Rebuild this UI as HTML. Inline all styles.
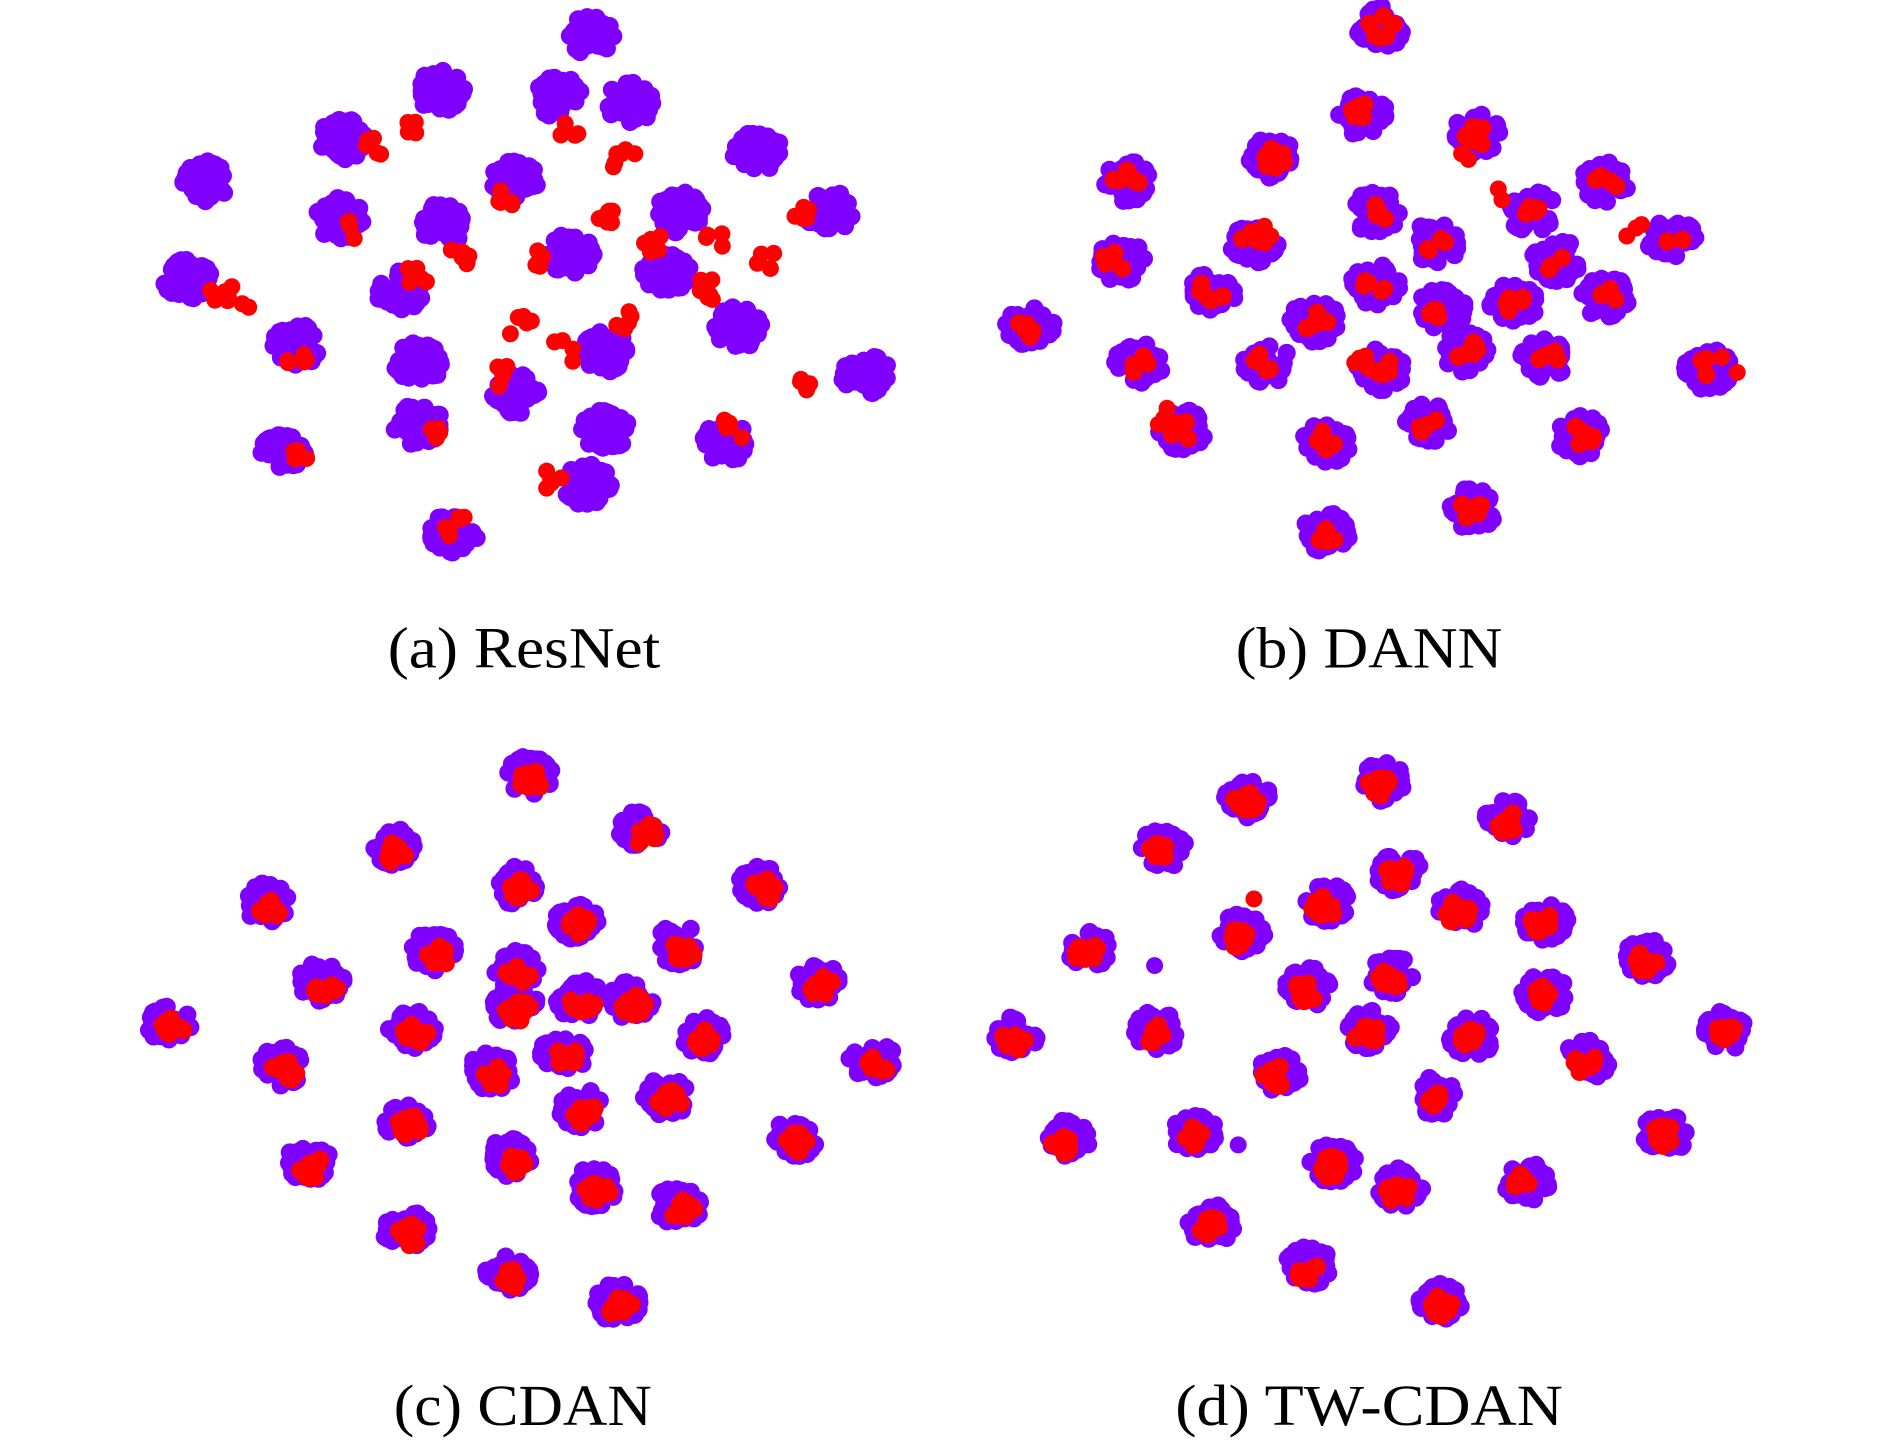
<!DOCTYPE html>
<html><head><meta charset="utf-8"><style>
html,body{margin:0;padding:0;background:#fff;width:1890px;height:1441px;overflow:hidden}
svg{display:block}
text{font-family:"Liberation Serif",serif;font-size:48px;fill:#000}
</style></head><body>
<svg id="s" width="1890" height="1441" viewBox="0 0 1560 1189.4" preserveAspectRatio="none">
<g id="p"></g><g id="r"></g>
<text x="320" y="551" textLength="225" lengthAdjust="spacingAndGlyphs">(a) ResNet</text>
<text x="1020" y="551" textLength="220" lengthAdjust="spacingAndGlyphs">(b) DANN</text>
<text x="325" y="1176" textLength="213" lengthAdjust="spacingAndGlyphs">(c) CDAN</text>
<text x="970" y="1176" textLength="320" lengthAdjust="spacingAndGlyphs">(d) TW-CDAN</text>
</svg>
<script>
var seed=7;function rnd(){seed=(seed*16807)%2147483647;return (seed-1)/2147483646;}
var P=document.getElementById('p'),R=document.getElementById('r'),ns='http://www.w3.org/2000/svg';
function dot(g,x,y,c,r){var e=document.createElementNS(ns,'circle');e.setAttribute('cx',x.toFixed(1));e.setAttribute('cy',y.toFixed(1));e.setAttribute('r',r||7);e.setAttribute('fill',c);g.appendChild(e);}
function blob(x,y,rx,ry,n,red,rdx,rdy){for(var i=0;i<n;i++){var a=rnd()*6.283,d=Math.sqrt(rnd());dot(P,x+Math.cos(a)*rx*d,y+Math.sin(a)*ry*d,'#8000ff',7.5);}
 for(var j=0;j<red;j++){var a2=rnd()*6.283,d2=Math.sqrt(rnd());dot(R,x+(rdx||0)+Math.cos(a2)*rx*0.55*d2,y+(rdy||0)+Math.sin(a2)*ry*0.55*d2,'#ff0000',7.5);}}
function reds(list){list.forEach(function(p){for(var i=0;i<(p[2]||4);i++){dot(R,p[0]+(rnd()-.5)*18,p[1]+(rnd()-.5)*18,'#ff0000',7);}});}
// panel a
[[487,30],[363,75],[283,115],[460,80],[520,85],[170,150],[425,150],[625,125],[280,180],[365,185],[685,175],[155,230],[330,240],[245,285],[470,210],[560,175],[550,225],[610,270],[500,290],[345,300],[425,325],[500,355],[600,365],[715,310],[235,370],[345,350],[485,400],[375,440]].forEach(function(c){blob(c[0],c[1],20,17,45,0);});
reds([[310,120,6],[345,105,5],[470,110,5],[515,130,6],[420,165,6],[440,215,5],[500,180,7],[540,200,6],[580,240,6],[630,215,5],[660,180,5],[180,240,6],[200,245,3],[245,300,5],[345,230,5],[380,215,7],[410,310,5],[465,290,4],[515,265,5],[605,355,6],[660,322,5],[245,375,5],[360,355,4],[455,395,5],[375,435,6],[285,188,4],[430,270,5],[590,200,4]]);
// panel b
[[1140,22,8],[1125,95,6],[1220,110,6],[1050,130,7],[930,150,6],[1325,150,4],[1380,198,2],[1135,175,4],[1265,175,4],[1035,200,6],[925,215,3],[1185,200,4],[1285,215,3],[1000,240,6],[1325,245,3],[1135,235,6],[850,270,7],[1085,265,6],[1190,255,4],[1250,250,6],[940,300,4],[1045,300,6],[1140,305,6],[1210,290,7],[1275,295,4],[1410,305,3],[975,355,6],[1095,365,6],[1180,350,4],[1305,360,6],[1215,420,6],[1095,440,6]].forEach(function(c){blob(c[0],c[1],20,17,42,c[2]);});
reds([[1350,190,3],[1210,130,2],[905,215,2],[1040,190,3],[1120,300,4],[1235,165,2],[960,345,3],[1430,300,2]]);
// panel c
[[437,640],[325,700],[530,685],[425,730],[220,745],[628,730],[475,760],[358,785],[560,780],[265,810],[425,800],[675,810],[140,845],[340,850],[520,825],[478,825],[425,830],[232,880],[405,885],[465,870],[580,855],[720,875],[550,905],[335,925],[480,915],[655,940],[255,960],[420,955],[490,980],[560,995],[335,1015],[420,1050],[510,1075]].forEach(function(c){blob(c[0],c[1],19,16,38,11,3,4);});
// panel d
[[1140,645],[1030,660],[1245,675],[960,700],[1155,720],[1095,745],[1205,750],[1275,760],[1025,770],[900,785],[1360,790],[1080,815],[1150,805],[1275,820],[955,850],[1130,850],[1215,855],[840,855],[1425,850],[1055,885],[1310,875],[1185,905],[985,935],[880,940],[1375,935],[1100,960],[1155,980],[1260,975],[1000,1010],[1080,1045],[1190,1075]].forEach(function(c){blob(c[0],c[1],19,16,38,11,-2,3);});
dot(R,1035,742,'#ff0000',7);dot(P,953,797,'#8000ff',7);dot(P,1022,945,'#8000ff',7);
</script>
</body></html>
